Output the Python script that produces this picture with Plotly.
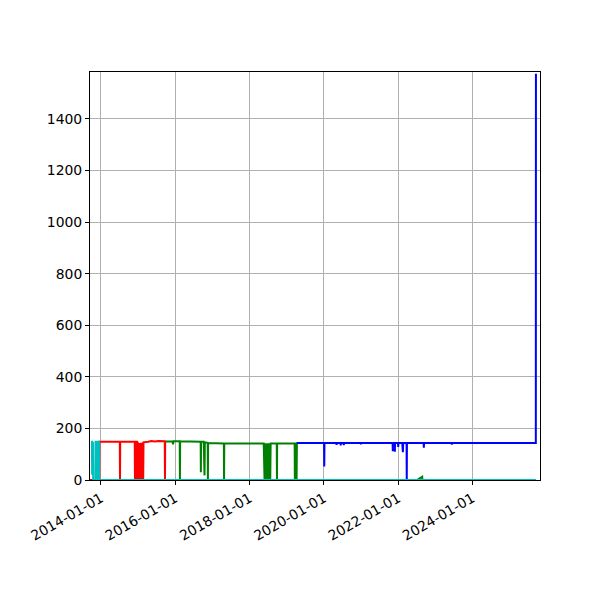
import plotly.graph_objects as go

# ---- data ----
cyan_dates = ["2013-09-25", "2013-10-04", "2013-10-06", "2013-10-08", "2013-10-14", "2013-10-16",
              "2013-11-06", "2013-11-08", "2013-11-20", "2013-11-21", "2013-12-01", "2013-12-02",
              "2013-12-12", "2013-12-13", "2025-09-18"]
cyan_values = [148, 148, 20, 148, 148, 0,
               0, 148, 148, 0, 0, 148,
               148, 0, 0]

red_dates = ["2013-09-15", "2013-12-16", "2013-12-17", "2014-07-05", "2014-07-07", "2014-07-09",
             "2014-11-29", "2014-12-01", "2014-12-03", "2014-12-19", "2014-12-21", "2014-12-23",
             "2015-01-03", "2015-01-05", "2015-01-08", "2015-01-13", "2015-01-15", "2015-01-18",
             "2015-01-23", "2015-01-25", "2015-01-28", "2015-02-03", "2015-02-05", "2015-02-08",
             "2015-02-10", "2015-02-12", "2015-02-15", "2015-02-18", "2015-02-20", "2015-02-23",
             "2015-04-10", "2015-05-10", "2015-06-15", "2015-07-20", "2015-09-20", "2015-09-22",
             "2015-09-24", "2015-10-01"]
red_values = [0, 0, 148, 148, 0, 148,
              148, 0, 148, 148, 0, 148,
              140, 0, 140, 140, 0, 140,
              140, 0, 140, 142, 0, 142,
              142, 0, 142, 142, 0, 146,
              148, 151, 149, 151, 150, 0,
              149, 149]

green_dates = ["2015-10-01", "2015-12-05", "2015-12-10", "2015-12-15", "2016-02-14", "2016-02-16",
               "2016-02-18", "2016-09-07", "2016-09-09", "2016-09-11", "2016-10-07", "2016-10-09",
               "2016-10-13", "2016-10-15", "2016-10-18", "2016-11-15", "2016-11-17", "2016-11-19",
               "2017-04-23", "2017-04-25", "2017-04-27", "2018-05-20", "2018-05-22", "2018-05-26",
               "2018-05-28", "2018-06-02", "2018-06-04", "2018-06-09", "2018-06-11", "2018-06-16",
               "2018-06-18", "2018-06-23", "2018-06-25", "2018-06-30", "2018-07-02", "2018-07-07",
               "2018-07-09", "2018-07-14", "2018-07-16", "2018-07-21", "2018-07-23", "2018-07-27",
               "2018-07-29", "2018-09-25", "2018-09-27", "2018-09-29", "2019-03-20", "2019-03-22",
               "2019-03-25", "2019-04-05", "2019-04-08", "2019-04-11", "2019-04-15", None,
               "2022-07-05", "2022-08-15", "2022-08-25", "2022-08-27"]
green_values = [149, 149, 138, 150, 150, 0,
                150, 148, 30, 148, 148, 20,
                148, 18, 146, 144, 0, 143,
                142, 0, 142, 142, 0, 142,
                0, 142, 0, 142, 0, 142,
                0, 142, 0, 142, 0, 142,
                0, 142, 0, 142, 0, 142,
                142, 142, 0, 142, 142, 0,
                142, 142, 0, 142, 142, None,
                0, 10, 13, 0]

blue_dates = ["2019-04-08", "2020-01-03", "2020-01-05", "2020-01-07", "2020-05-03", "2020-05-05",
              "2020-05-07", "2020-06-13", "2020-06-15", "2020-06-17", "2020-07-13", "2020-07-15",
              "2020-07-17", "2020-12-28", "2020-12-30", "2021-01-01", "2021-11-07", "2021-11-09",
              "2021-11-11", "2021-11-27", "2021-11-29", "2021-12-01", "2021-12-30", "2022-01-01",
              "2022-01-03", "2022-02-10", "2022-02-13", "2022-02-16", "2022-02-19", "2022-03-24",
              "2022-03-26", "2022-03-28", "2022-09-08", "2022-09-10", "2022-09-12", "2023-06-10",
              "2023-06-12", "2023-06-14", "2025-09-15", "2025-09-16"]
blue_values = [143, 143, 52, 143, 143, 136,
               143, 143, 134, 143, 143, 135,
               143, 143, 138, 143, 143, 112,
               143, 143, 110, 143, 143, 128,
               143, 143, 115, 108, 143, 143,
               0, 143, 143, 125, 143, 143,
               137, 143, 143, 1575]

x_ticks = ["2014-01-01", "2016-01-01", "2018-01-01", "2020-01-01", "2022-01-01", "2024-01-01"]
y_ticks = [0, 200, 400, 600, 800, 1000, 1200, 1400]

fig = go.Figure()
for d, v, c in [(red_dates, red_values, "#ff0000"),
                (green_dates, green_values, "#008000"),
                (blue_dates, blue_values, "#0000ff"),
                (cyan_dates, cyan_values, "#00bfbf")]:
    fig.add_trace(go.Scatter(x=d, y=v, mode="lines", line=dict(color=c, width=2),
                             showlegend=False, hoverinfo="skip"))

axis_common = dict(showline=True, linecolor="black", linewidth=1, mirror=True,
                   ticks="outside", ticklen=4, tickcolor="black", tickwidth=1,
                   showgrid=True, gridcolor="#b0b0b0", gridwidth=1, zeroline=False)

fig.update_xaxes(type="date", range=["2013-09-15", "2025-10-26"],
                 tickvals=x_ticks, ticktext=x_ticks, tickangle=-30, **axis_common)
fig.update_yaxes(range=[0, 1582], tickvals=y_ticks, **axis_common)

fig.update_layout(width=600, height=600, margin=dict(l=82, r=68, t=64, b=128),
                  plot_bgcolor="white", paper_bgcolor="white",
                  font=dict(family="DejaVu Sans", size=13.9, color="black"))

fig.write_html("out.html")
